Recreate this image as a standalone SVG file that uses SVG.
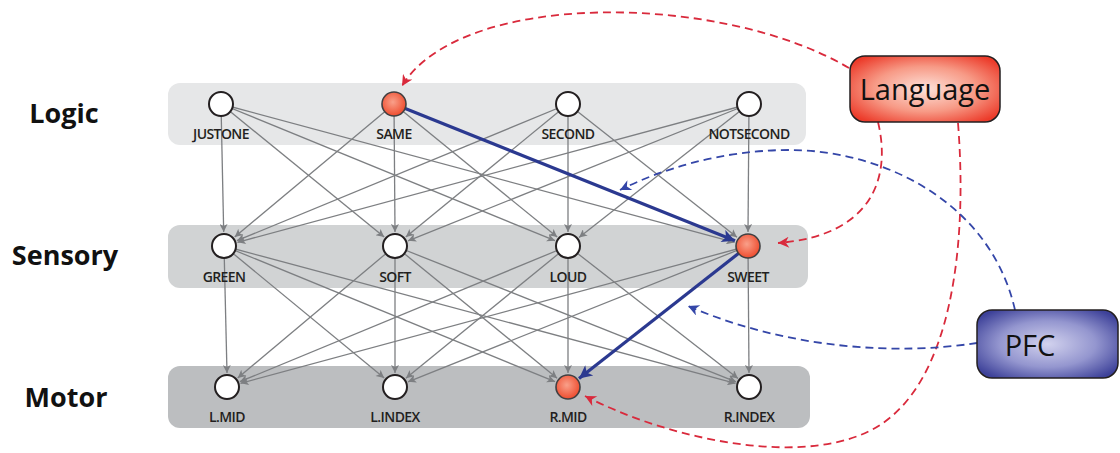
<svg xmlns="http://www.w3.org/2000/svg" width="1120" height="453" viewBox="0 0 1120 453">
  <defs>
    <style>
      .band-logic { fill: #e6e7e8; }
      .band-sensory { fill: #d1d3d4; }
      .band-motor { fill: #bcbec0; }
      .layer { font-family: "Open Sans", "Liberation Sans", sans-serif; font-weight: 700; font-size: 27px; fill: #111; text-anchor: middle; }
      .lbl { font-family: "Open Sans", "Liberation Sans", sans-serif; font-weight: 600; font-size: 14px; fill: #231f20; text-anchor: middle; letter-spacing: -0.6px; }
      .node { fill: #ffffff; stroke: #231f20; stroke-width: 2; }
      .node-on { fill: url(#gOn); stroke: #414042; stroke-width: 1.6; }
      .edge { stroke: #7d7f82; stroke-width: 1.3; fill: none; marker-end: url(#aGray); }
      .hot { stroke: #2b3990; stroke-width: 3.2; fill: none; marker-end: url(#aBlue); }
      .red { stroke: #d92a3c; stroke-width: 1.8; fill: none; stroke-dasharray: 8 5; marker-end: url(#aRed); }
      .bluedash { stroke: #3446a8; stroke-width: 1.8; fill: none; stroke-dasharray: 8 5; marker-end: url(#aBlueD); }
      .boxtxt { font-family: "Open Sans", "Liberation Sans", sans-serif; font-size: 29px; fill: #111; text-anchor: middle; }
    </style>
    <radialGradient id="gOn" cx="0.45" cy="0.42" r="0.6">
      <stop offset="0" stop-color="#f9a08a"/>
      <stop offset="1" stop-color="#ee4a2c"/>
    </radialGradient>
    <radialGradient id="gLang" cx="0.5" cy="0.5" r="0.62">
      <stop offset="0" stop-color="#fde2da"/>
      <stop offset="0.55" stop-color="#f79a86"/>
      <stop offset="1" stop-color="#ec3b2a"/>
    </radialGradient>
    <radialGradient id="gPfc" cx="0.5" cy="0.5" r="0.62">
      <stop offset="0" stop-color="#d2d2ee"/>
      <stop offset="0.55" stop-color="#9496cf"/>
      <stop offset="1" stop-color="#3d4199"/>
    </radialGradient>
    <marker id="aGray" viewBox="0 0 10 10" refX="10" refY="5" markerWidth="10" markerHeight="8" orient="auto" markerUnits="userSpaceOnUse">
      <path d="M0,0 L10,5 L0,10 L2.5,5 z" fill="#7d7f82"/>
    </marker>
    <marker id="aBlue" viewBox="0 0 10 10" refX="10" refY="5" markerWidth="17" markerHeight="13" orient="auto" markerUnits="userSpaceOnUse">
      <path d="M0,0 L10,5 L0,10 L2.5,5 z" fill="#2b3990"/>
    </marker>
    <marker id="aRed" viewBox="0 0 10 10" refX="10" refY="5" markerWidth="14" markerHeight="11" orient="auto" markerUnits="userSpaceOnUse">
      <path d="M0,0 L10,5 L0,10 L3,5 z" fill="#d92a3c"/>
    </marker>
    <marker id="aBlueD" viewBox="0 0 10 10" refX="10" refY="5" markerWidth="14" markerHeight="11" orient="auto" markerUnits="userSpaceOnUse">
      <path d="M0,0 L10,5 L0,10 L3,5 z" fill="#3446a8"/>
    </marker>
  </defs>

  <!-- layer bands -->
  <rect class="band-logic" x="168" y="83" width="638" height="62" rx="12"/>
  <rect class="band-sensory" x="168" y="225" width="640" height="63" rx="12"/>
  <rect class="band-motor" x="168" y="366" width="642" height="62" rx="12"/>

  <!-- layer names -->
  <text class="layer" x="64" y="123">Logic</text>
  <text class="layer" x="65" y="265">Sensory</text>
  <text class="layer" x="66" y="407">Motor</text>

  <g id="connectors">
    <!-- logic to sensory -->
    <line class="edge" x1="221" y1="104" x2="223.7" y2="232"/>
    <line class="edge" x1="394" y1="104" x2="234.7" y2="237"/>
    <line class="edge" x1="568" y1="104" x2="236.9" y2="240.7"/>
    <line class="edge" x1="749" y1="104" x2="237.5" y2="242.3"/>
    <line class="edge" x1="221" y1="104" x2="384.2" y2="237.1"/>
    <line class="edge" x1="394" y1="104" x2="395" y2="232"/>
    <line class="edge" x1="568" y1="104" x2="405.8" y2="237.1"/>
    <line class="edge" x1="749" y1="104" x2="408" y2="240.8"/>
    <line class="edge" x1="221" y1="104" x2="555" y2="240.7"/>
    <line class="edge" x1="394" y1="104" x2="557.2" y2="237.1"/>
    <line class="edge" x1="568" y1="104" x2="568" y2="232"/>
    <line class="edge" x1="749" y1="104" x2="579" y2="237.4"/>
    <line class="edge" x1="221" y1="104" x2="734.5" y2="242.4"/>
    <line class="edge" x1="568" y1="104" x2="737" y2="237.3"/>
    <line class="edge" x1="749" y1="104" x2="748" y2="232"/>
    <!-- sensory to motor -->
    <line class="edge" x1="224" y1="246" x2="227" y2="373"/>
    <line class="edge" x1="395" y1="246" x2="237.7" y2="378"/>
    <line class="edge" x1="568" y1="246" x2="239.9" y2="381.7"/>
    <line class="edge" x1="748" y1="246" x2="240.5" y2="383.3"/>
    <line class="edge" x1="224" y1="246" x2="384.2" y2="378.1"/>
    <line class="edge" x1="395" y1="246" x2="395" y2="373"/>
    <line class="edge" x1="568" y1="246" x2="405.9" y2="378.2"/>
    <line class="edge" x1="748" y1="246" x2="408" y2="381.8"/>
    <line class="edge" x1="224" y1="246" x2="555" y2="381.7"/>
    <line class="edge" x1="395" y1="246" x2="557.1" y2="378.2"/>
    <line class="edge" x1="568" y1="246" x2="568" y2="373"/>
    <line class="edge" x1="224" y1="246" x2="735.5" y2="383.4"/>
    <line class="edge" x1="395" y1="246" x2="736" y2="381.8"/>
    <line class="edge" x1="568" y1="246" x2="738" y2="378.4"/>
    <line class="edge" x1="748" y1="246" x2="749" y2="373"/>
    <!-- active pathway -->
    <line class="hot" x1="394" y1="104" x2="735" y2="240.8"/>
    <line class="hot" x1="748" y1="246" x2="579" y2="378.4"/>
    <!-- top-down modulation -->
    <path class="red" d="M 849 68 C 720 -8, 460 -10, 402 86"/>
    <path class="red" d="M 878 122 C 892 180, 870 236, 778 243"/>
    <path class="red" d="M 958 123 C 968 250, 950 380, 880 425 C 810 470, 670 440, 585 396"/>
    <path class="bluedash" d="M 1015 310 C 990 200, 880 150, 790 150 C 720 150, 660 170, 620 190"/>
    <path class="bluedash" d="M 977 343 C 900 355, 790 350, 688 306"/>
  </g>

  <g id="JUSTONE"><circle class="node" cx="221" cy="104" r="12"/><text class="lbl" x="221" y="139">JUSTONE</text></g>
  <g id="SAME"><circle class="node-on" cx="394" cy="104" r="12"/><text class="lbl" x="394" y="139">SAME</text></g>
  <g id="SECOND"><circle class="node" cx="568" cy="104" r="12"/><text class="lbl" x="568" y="139">SECOND</text></g>
  <g id="NOTSECOND"><circle class="node" cx="749" cy="104" r="12"/><text class="lbl" x="749" y="139">NOTSECOND</text></g>

  <g id="GREEN"><circle class="node" cx="224" cy="246" r="12"/><text class="lbl" x="224" y="282">GREEN</text></g>
  <g id="SOFT"><circle class="node" cx="395" cy="246" r="12"/><text class="lbl" x="395" y="282">SOFT</text></g>
  <g id="LOUD"><circle class="node" cx="568" cy="246" r="12"/><text class="lbl" x="568" y="282">LOUD</text></g>
  <g id="SWEET"><circle class="node-on" cx="748" cy="246" r="12"/><text class="lbl" x="748" y="282">SWEET</text></g>

  <g id="L.MID"><circle class="node" cx="227" cy="387" r="12"/><text class="lbl" x="227" y="422">L.MID</text></g>
  <g id="L.INDEX"><circle class="node" cx="395" cy="387" r="12"/><text class="lbl" x="395" y="422">L.INDEX</text></g>
  <g id="R.MID"><circle class="node-on" cx="568" cy="387" r="12"/><text class="lbl" x="568" y="422">R.MID</text></g>
  <g id="R.INDEX"><circle class="node" cx="749" cy="387" r="12"/><text class="lbl" x="749" y="422">R.INDEX</text></g>

  <g id="Language">
    <rect x="850" y="56" width="150" height="66" rx="15" fill="url(#gLang)" stroke="#231f20" stroke-width="1.5"/>
    <text class="boxtxt" x="925" y="100">Language</text>
  </g>
  <g id="PFC">
    <rect x="977" y="310" width="141" height="68" rx="15" fill="url(#gPfc)" stroke="#231f20" stroke-width="1.5"/>
    <text class="boxtxt" x="1030" y="356">PFC</text>
  </g>
</svg>
